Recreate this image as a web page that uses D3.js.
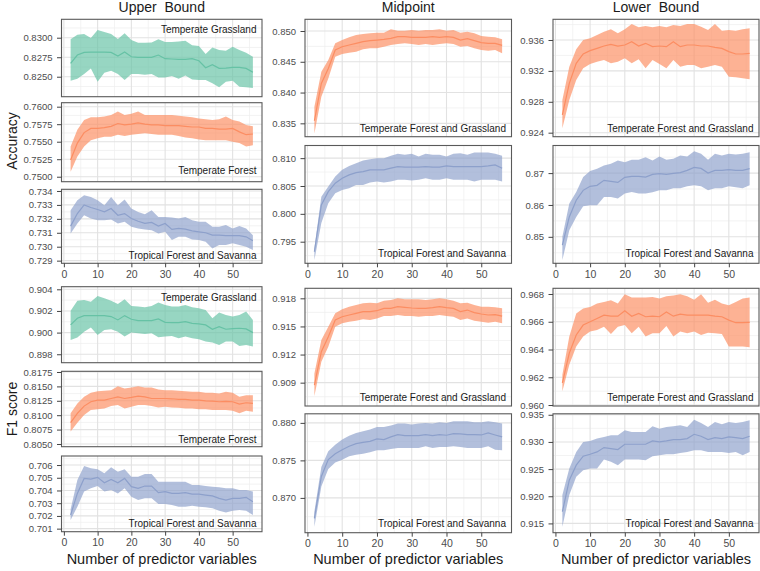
<!DOCTYPE html>
<html><head><meta charset="utf-8">
<script src="https://cdn.jsdelivr.net/npm/d3@7"></script>
<style>body{margin:0;background:#fff}svg{display:block}text{font-family:"Liberation Sans",Arial,sans-serif}</style>
</head><body>
<svg id="c" width="760" height="571"></svg>
<script>
// ---------- DATA ----------
const xVals = [2,4,6,8,10,12,14,16,18,20,22,24,26,28,30,32,34,36,38,40,42,44,46,48,50,52,54,56];
const xTicks = [0,10,20,30,40,50];
const colTitles = ["Upper  Bound","Midpoint","Lower  Bound"];
const rowTitles = ["Accuracy","F1 score"];
const xTitle = "Number of predictor variables";
const categories = ["Temperate Grassland","Temperate Forest","Tropical Forest and Savanna","Temperate Forest and Grassland"];

// Upper bound - Accuracy - Temperate Grassland
const ubAccTG_mean=[0.82671,0.82778,0.82812,0.82816,0.82816,0.82816,0.82812,0.82765,0.82816,0.82756,0.82748,0.82748,0.82748,0.82778,0.82731,0.82727,0.82722,0.82722,0.82731,0.82705,0.82615,0.82654,0.82607,0.82611,0.8262,0.8262,0.82607,0.82556];
const ubAccTG_hi=[0.82979,0.83038,0.83047,0.82996,0.83098,0.83073,0.83047,0.82983,0.83056,0.8297,0.82936,0.82936,0.8294,0.82979,0.82944,0.82944,0.82953,0.82962,0.82902,0.82893,0.82791,0.82876,0.82842,0.82833,0.82885,0.82842,0.82808,0.82756];
const ubAccTG_lo=[0.82449,0.82474,0.82534,0.82607,0.82436,0.82551,0.82577,0.82534,0.82457,0.82534,0.82534,0.82526,0.82534,0.82491,0.82491,0.82508,0.82474,0.82517,0.82466,0.82457,0.82457,0.82415,0.82364,0.82436,0.82449,0.82372,0.82364,0.82355];
const ubAccTG_domain=[0.82244,0.83236];
const ubAccTG_ticks=[0.825,0.8275,0.83];
// Upper bound - Accuracy - Temperate Forest
const ubAccTF_mean=[0.7524,0.7548,0.7563,0.7569,0.7569,0.757,0.7572,0.7576,0.7574,0.7575,0.7577,0.7575,0.7574,0.7574,0.7573,0.7573,0.7573,0.7572,0.7571,0.7571,0.7569,0.7569,0.7568,0.7568,0.7569,0.7564,0.756,0.7561];
const ubAccTF_hi=[0.7543,0.7567,0.7581,0.7585,0.7585,0.7586,0.7588,0.7593,0.7588,0.759,0.7593,0.7588,0.7588,0.7588,0.7588,0.7588,0.7587,0.7586,0.7585,0.7583,0.7582,0.7581,0.7582,0.7586,0.7581,0.7579,0.7574,0.7572];
const ubAccTF_lo=[0.7507,0.7529,0.7543,0.7552,0.7555,0.7557,0.7557,0.756,0.7558,0.756,0.7561,0.7562,0.7561,0.756,0.756,0.756,0.7558,0.7556,0.7555,0.7553,0.7552,0.7552,0.7552,0.7552,0.755,0.7548,0.7543,0.7545];
const ubAccTF_domain=[0.74929,0.76057];
const ubAccTF_ticks=[0.75,0.7525,0.755,0.7575,0.76];
// Upper bound - Accuracy - Tropical Forest and Savanna
const ubAccTFS_mean=[0.73148,0.73238,0.733,0.73281,0.73267,0.7325,0.73274,0.73226,0.73238,0.73202,0.73183,0.73167,0.73174,0.73148,0.73167,0.73124,0.73131,0.73126,0.73114,0.73107,0.731,0.73083,0.73083,0.73079,0.73079,0.73079,0.73071,0.73043];
const ubAccTFS_hi=[0.73262,0.73333,0.73369,0.73357,0.73333,0.73298,0.73357,0.73298,0.73338,0.73274,0.7325,0.73233,0.73262,0.73214,0.73214,0.7321,0.73202,0.73214,0.7319,0.73179,0.73179,0.73143,0.73143,0.73155,0.73131,0.73148,0.73131,0.73083];
const ubAccTFS_lo=[0.73095,0.73167,0.73226,0.73202,0.7319,0.7319,0.73195,0.73167,0.73179,0.73143,0.73131,0.73124,0.73119,0.73095,0.73107,0.73048,0.73071,0.73071,0.73052,0.73048,0.73036,0.72988,0.73012,0.73012,0.73024,0.73012,0.73,0.72976];
const ubAccTFS_domain=[0.72881,0.73412];
const ubAccTFS_ticks=[0.729,0.730,0.731,0.732,0.733,0.734];
// Upper bound - F1 - Temperate Grassland
const ubF1TG_mean=[0.90071,0.90132,0.90157,0.90157,0.90157,0.90157,0.90148,0.90117,0.90157,0.90123,0.90111,0.90111,0.90111,0.90126,0.90095,0.90092,0.90092,0.90102,0.90086,0.9008,0.90071,0.90031,0.90055,0.90031,0.90037,0.9004,0.90034,0.9];
const ubF1TG_hi=[0.90203,0.90295,0.90302,0.90286,0.90338,0.90317,0.90295,0.90265,0.90308,0.90246,0.9024,0.90234,0.90246,0.90277,0.90255,0.9024,0.9024,0.90255,0.90234,0.90225,0.90209,0.90132,0.90185,0.90163,0.90148,0.90163,0.90194,0.90117];
const ubF1TG_lo=[0.89932,0.89954,0.90009,0.90046,0.89978,0.90025,0.90031,0.90009,0.89963,0.9,0.89994,0.89988,0.89994,0.89957,0.89963,0.89969,0.89948,0.89963,0.89948,0.89938,0.89917,0.89908,0.89886,0.89917,0.89917,0.89877,0.89886,0.89871];
const ubF1TG_domain=[0.89722,0.90424];
const ubF1TG_ticks=[0.898,0.900,0.902,0.904];
// Upper bound - F1 - Temperate Forest
const ubF1TF_mean=[0.8087,0.81032,0.81158,0.81233,0.81262,0.81262,0.8129,0.81319,0.8129,0.81308,0.8133,0.81319,0.8129,0.8129,0.8129,0.81285,0.81273,0.81273,0.81262,0.81262,0.8125,0.81244,0.81233,0.81239,0.81233,0.81193,0.81216,0.81204];
const ubF1TF_hi=[0.81032,0.81204,0.81319,0.81388,0.81417,0.81423,0.81434,0.81503,0.81463,0.8148,0.81503,0.8148,0.8148,0.81446,0.81434,0.81434,0.81423,0.81417,0.81405,0.81405,0.81388,0.81388,0.81377,0.81405,0.81388,0.81319,0.81348,0.81348];
const ubF1TF_lo=[0.80715,0.8087,0.81003,0.81089,0.81101,0.81118,0.81158,0.81175,0.81118,0.81147,0.81175,0.81175,0.81158,0.81135,0.81147,0.81135,0.81129,0.81118,0.81118,0.81101,0.81101,0.81089,0.81089,0.81089,0.81078,0.81032,0.81078,0.8106];
const ubF1TF_domain=[0.80453,0.81762];
const ubF1TF_ticks=[0.805,0.8075,0.81,0.8125,0.815,0.8175];
// Upper bound - F1 - Tropical Forest and Savanna
const ubF1TFS_mean=[0.70207,0.70377,0.70495,0.7049,0.70503,0.70461,0.70487,0.70461,0.70495,0.7043,0.70417,0.70435,0.70435,0.70383,0.70391,0.70377,0.70377,0.70383,0.70372,0.70372,0.70364,0.70357,0.70338,0.70325,0.70338,0.70338,0.70346,0.70312];
const ubF1TFS_hi=[0.70252,0.70482,0.70592,0.70574,0.70566,0.70535,0.70582,0.70548,0.70566,0.70508,0.70508,0.70529,0.70529,0.70469,0.70469,0.70469,0.70469,0.70469,0.70443,0.70443,0.70435,0.7043,0.70425,0.70417,0.70417,0.70404,0.70404,0.70391];
const ubF1TFS_lo=[0.70168,0.70273,0.70391,0.70417,0.70435,0.70391,0.70404,0.70377,0.70417,0.70351,0.70325,0.70338,0.70338,0.70294,0.70294,0.70286,0.70273,0.70273,0.7028,0.70273,0.70268,0.7026,0.70241,0.70226,0.70241,0.70247,0.70241,0.70207];
const ubF1TFS_domain=[0.70076,0.70671];
const ubF1TFS_ticks=[0.701,0.702,0.703,0.704,0.705,0.706];
// Midpoint - Accuracy - Temperate Forest and Grassland
const midAccTFG_mean=[0.83542,0.84149,0.8439,0.84691,0.84745,0.84772,0.84799,0.84827,0.84843,0.84853,0.84864,0.84881,0.84908,0.84908,0.84897,0.84897,0.84897,0.84908,0.84897,0.84908,0.84897,0.84853,0.84875,0.84843,0.8481,0.84799,0.84799,0.84767];
const midAccTFG_hi=[0.8377,0.84339,0.84528,0.84799,0.84853,0.84897,0.84935,0.84951,0.84962,0.84973,0.84973,0.85027,0.85005,0.85005,0.85016,0.85005,0.85016,0.85016,0.85027,0.85005,0.85016,0.84973,0.84989,0.84962,0.84919,0.84908,0.84897,0.84864];
const midAccTFG_lo=[0.83336,0.83932,0.8423,0.84583,0.84626,0.84648,0.84664,0.84702,0.84718,0.84718,0.84745,0.84772,0.84789,0.84799,0.84789,0.84772,0.84789,0.84772,0.84789,0.84799,0.84789,0.84745,0.84756,0.84718,0.84691,0.8468,0.84691,0.84637];
const midAccTFG_domain=[0.83283,0.8519];
const midAccTFG_ticks=[0.835,0.840,0.845,0.850];
// Midpoint - Accuracy - Tropical Forest and Savanna
const midAccTFS_mean=[0.7932,0.8016,0.80399,0.8055,0.8064,0.807,0.80741,0.80759,0.8079,0.8079,0.8079,0.8082,0.80849,0.80838,0.80838,0.80838,0.80849,0.80838,0.80838,0.80861,0.80849,0.80849,0.80849,0.80849,0.80849,0.80861,0.80879,0.8082];
const midAccTFS_hi=[0.79381,0.80309,0.80489,0.80669,0.8079,0.80861,0.8091,0.80957,0.80982,0.81,0.81,0.81041,0.81077,0.81059,0.81077,0.81029,0.81077,0.81059,0.81059,0.81029,0.81077,0.8109,0.81059,0.81101,0.81101,0.81101,0.81077,0.81041];
const midAccTFS_lo=[0.7917,0.79836,0.8019,0.8037,0.8043,0.8046,0.8052,0.8052,0.80561,0.80579,0.80561,0.80579,0.8061,0.8061,0.80597,0.8061,0.8064,0.8061,0.8061,0.8064,0.8061,0.8061,0.8061,0.80579,0.8061,0.8061,0.8061,0.80579];
const midAccTFS_domain=[0.79112,0.81227];
const midAccTFS_ticks=[0.795,0.800,0.805,0.810];
// Midpoint - F1 - Temperate Forest and Grassland
const midF1TFG_mean=[0.90874,0.9123,0.9139,0.91569,0.91604,0.91622,0.9164,0.91658,0.91658,0.91668,0.91693,0.91693,0.91711,0.91704,0.91697,0.91693,0.91693,0.917,0.91711,0.917,0.91693,0.91658,0.91675,0.91647,0.91633,0.91622,0.91626,0.91611];
const midF1TFG_hi=[0.90999,0.91355,0.91497,0.9164,0.91683,0.91711,0.91729,0.91747,0.91754,0.91747,0.91775,0.91782,0.918,0.91789,0.91789,0.91789,0.91782,0.91789,0.918,0.91789,0.91775,0.91747,0.91754,0.91729,0.91711,0.91711,0.91704,0.91693];
const midF1TFG_lo=[0.90757,0.91124,0.91284,0.91497,0.91533,0.91551,0.91561,0.91576,0.91569,0.91586,0.91611,0.91611,0.91622,0.91611,0.91611,0.91604,0.91611,0.91611,0.91622,0.91611,0.91604,0.91569,0.91586,0.91561,0.91551,0.9154,0.91551,0.91533];
const midF1TFG_domain=[0.90651,0.91907];
const midF1TFG_ticks=[0.909,0.912,0.915,0.918];
// Midpoint - F1 - Tropical Forest and Savanna
const midF1TFS_mean=[0.86728,0.87286,0.8751,0.87589,0.87643,0.87688,0.87723,0.87741,0.87754,0.87786,0.87777,0.87813,0.87844,0.8783,0.8783,0.8783,0.87844,0.8783,0.87844,0.87835,0.87857,0.87853,0.87844,0.87844,0.87839,0.87866,0.87839,0.87813];
const midF1TFS_hi=[0.86817,0.87411,0.87621,0.8771,0.87777,0.8783,0.87866,0.87888,0.87911,0.87946,0.87946,0.87964,0.87991,0.87991,0.87978,0.87991,0.88,0.87991,0.88009,0.88,0.88022,0.88022,0.88022,0.88009,0.88009,0.88022,0.88009,0.87991];
const midF1TFS_lo=[0.86616,0.87152,0.87384,0.87473,0.8751,0.87554,0.87576,0.87589,0.87607,0.87634,0.87634,0.87652,0.87665,0.87665,0.87665,0.87665,0.87688,0.87665,0.87679,0.87679,0.87688,0.87679,0.87665,0.87665,0.87665,0.87688,0.87643,0.87634];
const midF1TFS_domain=[0.86536,0.88121];
const midF1TFS_ticks=[0.870,0.875,0.880];
// Lower bound - Accuracy - Temperate Forest and Grassland
const lbAccTFG_mean=[0.92629,0.93039,0.93298,0.93419,0.93462,0.93492,0.93522,0.93544,0.93522,0.93535,0.93578,0.93522,0.93557,0.93514,0.93522,0.93514,0.93578,0.93514,0.93535,0.93535,0.93522,0.93522,0.93505,0.93492,0.93449,0.93419,0.93419,0.93427];
const lbAccTFG_hi=[0.92823,0.93255,0.93479,0.936,0.93622,0.93665,0.93708,0.93738,0.93686,0.93738,0.93807,0.93764,0.93781,0.93764,0.93781,0.93764,0.93794,0.93781,0.93807,0.93807,0.93773,0.93729,0.93807,0.93721,0.93729,0.93721,0.93738,0.93751];
const lbAccTFG_lo=[0.92457,0.92823,0.93082,0.93233,0.93289,0.9332,0.93341,0.93298,0.9332,0.93363,0.93298,0.9335,0.93233,0.93341,0.93289,0.93233,0.93341,0.93255,0.93276,0.93276,0.93233,0.93255,0.93276,0.93255,0.93125,0.93117,0.93104,0.93091];
const lbAccTFG_domain=[0.92348,0.93868];
const lbAccTFG_ticks=[0.924,0.928,0.932,0.936];
// Lower bound - Accuracy - Tropical Forest and Savanna
const lbAccTFS_mean=[0.84741,0.85625,0.86147,0.86459,0.86584,0.86616,0.86772,0.86741,0.86709,0.86866,0.86897,0.86897,0.86875,0.86959,0.86981,0.86959,0.86991,0.87013,0.87084,0.87178,0.87147,0.87,0.87084,0.87084,0.87106,0.87084,0.87084,0.87138];
const lbAccTFS_hi=[0.85,0.86044,0.86406,0.86875,0.87063,0.87138,0.87241,0.87294,0.87397,0.87344,0.87419,0.87419,0.875,0.87397,0.87522,0.87419,0.8745,0.87553,0.87522,0.87688,0.87606,0.87419,0.87606,0.87553,0.87606,0.87584,0.87606,0.87656];
const lbAccTFS_lo=[0.84272,0.85209,0.85625,0.85959,0.85991,0.85991,0.8625,0.8625,0.862,0.86356,0.86406,0.86356,0.86356,0.86397,0.86459,0.86459,0.86522,0.86522,0.86584,0.86616,0.86584,0.86459,0.86522,0.86522,0.86584,0.86553,0.86522,0.86616];
const lbAccTFS_domain=[0.84169,0.87866];
const lbAccTFS_ticks=[0.85,0.86,0.87];
// Lower bound - F1 - Temperate Forest and Grassland
const lbF1TFG_mean=[0.9616,0.96374,0.96505,0.96576,0.966,0.96624,0.96648,0.9664,0.9664,0.96679,0.9664,0.9666,0.96636,0.9664,0.96636,0.96671,0.9664,0.96655,0.96648,0.96648,0.96648,0.96648,0.9664,0.96636,0.96612,0.96593,0.96593,0.96595];
const lbF1TFG_hi=[0.96219,0.96493,0.9666,0.96695,0.96707,0.96731,0.96743,0.96755,0.96731,0.96798,0.96774,0.96774,0.96774,0.96779,0.96767,0.96783,0.9679,0.96798,0.96783,0.96759,0.96798,0.96736,0.96759,0.96731,0.96719,0.96743,0.96767,0.96774];
const lbF1TFG_lo=[0.961,0.96291,0.96421,0.96493,0.96529,0.9654,0.96564,0.96512,0.96564,0.96576,0.96517,0.96564,0.96493,0.96517,0.96517,0.96569,0.96493,0.96529,0.96517,0.96529,0.96505,0.96521,0.96517,0.96512,0.96421,0.96421,0.96421,0.96417];
const lbF1TFG_domain=[0.95993,0.96841];
const lbF1TFG_ticks=[0.960,0.962,0.964,0.966,0.968];
// Lower bound - F1 - Tropical Forest and Savanna
const lbF1TFS_mean=[0.91715,0.92296,0.92572,0.92737,0.92774,0.92816,0.92896,0.92878,0.92859,0.92957,0.92957,0.92957,0.92957,0.93018,0.93,0.93018,0.93043,0.93043,0.93061,0.93141,0.93104,0.93043,0.9308,0.93061,0.93092,0.9308,0.93061,0.93104];
const lbF1TFS_hi=[0.92021,0.9251,0.92816,0.93,0.93018,0.93061,0.93092,0.93122,0.93122,0.93214,0.93184,0.93184,0.93184,0.93288,0.93245,0.93275,0.93288,0.93306,0.93275,0.9341,0.93349,0.93275,0.93367,0.93324,0.93367,0.93349,0.93367,0.93398];
const lbF1TFS_lo=[0.91439,0.92021,0.92357,0.9248,0.9251,0.9251,0.92676,0.92633,0.92572,0.92676,0.92676,0.92676,0.92663,0.92737,0.92755,0.92774,0.92774,0.92798,0.92816,0.92847,0.92847,0.92816,0.92816,0.92816,0.92798,0.92816,0.92755,0.92816];
const lbF1TFS_domain=[0.91329,0.93518];
const lbF1TFS_ticks=[0.915,0.920,0.925,0.930,0.935];

// ---------- STYLE / LAYOUT ----------
const colors = {"Temperate Grassland":"#66c2a5","Temperate Forest":"#fc8d62","Temperate Forest and Grassland":"#fc8d62","Tropical Forest and Savanna":"#8da0cb"};
const cols = [{x0:61.5,x1:262},{x0:305,x1:511.5},{x0:553,x1:759}];
const FONT = '"Liberation Sans", Arial, sans-serif';

const panels = [
 {c:0,y0:19.3,y1:96.7,m:ubAccTG_mean,hi:ubAccTG_hi,lo:ubAccTG_lo,dom:ubAccTG_domain,ticks:ubAccTG_ticks,fmt:".4f",cat:categories[0],lab:"top",ld:13.7},
 {c:0,y0:102.7,y1:181.7,m:ubAccTF_mean,hi:ubAccTF_hi,lo:ubAccTF_lo,dom:ubAccTF_domain,ticks:ubAccTF_ticks,fmt:".4f",cat:categories[1],lab:"bottom",ld:-7.7},
 {c:0,y0:189.3,y1:263.3,m:ubAccTFS_mean,hi:ubAccTFS_hi,lo:ubAccTFS_lo,dom:ubAccTFS_domain,ticks:ubAccTFS_ticks,fmt:".3f",cat:categories[2],lab:"bottom",ld:-4,xa:true},
 {c:0,y0:286.7,y1:362.7,m:ubF1TG_mean,hi:ubF1TG_hi,lo:ubF1TG_lo,dom:ubF1TG_domain,ticks:ubF1TG_ticks,fmt:".3f",cat:categories[0],lab:"top",ld:14},
 {c:0,y0:371.3,y1:446.7,m:ubF1TF_mean,hi:ubF1TF_hi,lo:ubF1TF_lo,dom:ubF1TF_domain,ticks:ubF1TF_ticks,fmt:".4f",cat:categories[1],lab:"bottom",ld:-4},
 {c:0,y0:456,y1:531.7,m:ubF1TFS_mean,hi:ubF1TFS_hi,lo:ubF1TFS_lo,dom:ubF1TFS_domain,ticks:ubF1TFS_ticks,fmt:".3f",cat:categories[2],lab:"bottom",ld:-4.4,xa:true},
 {c:1,y0:19.3,y1:136.7,m:midAccTFG_mean,hi:midAccTFG_hi,lo:midAccTFG_lo,dom:midAccTFG_domain,ticks:midAccTFG_ticks,fmt:".3f",cat:categories[3],lab:"bottom",ld:-5},
 {c:1,y0:145.5,y1:263.3,m:midAccTFS_mean,hi:midAccTFS_hi,lo:midAccTFS_lo,dom:midAccTFS_domain,ticks:midAccTFS_ticks,fmt:".3f",cat:categories[2],lab:"bottom",ld:-6.5,xa:true},
 {c:1,y0:288.3,y1:406,m:midF1TFG_mean,hi:midF1TFG_hi,lo:midF1TFG_lo,dom:midF1TFG_domain,ticks:midF1TFG_ticks,fmt:".3f",cat:categories[3],lab:"bottom",ld:-5.3},
 {c:1,y0:413.8,y1:532.7,m:midF1TFS_mean,hi:midF1TFS_hi,lo:midF1TFS_lo,dom:midF1TFS_domain,ticks:midF1TFS_ticks,fmt:".3f",cat:categories[2],lab:"bottom",ld:-5.4,xa:true},
 {c:2,y0:19.3,y1:136.7,m:lbAccTFG_mean,hi:lbAccTFG_hi,lo:lbAccTFG_lo,dom:lbAccTFG_domain,ticks:lbAccTFG_ticks,fmt:".3f",cat:categories[3],lab:"bottom",ld:-5},
 {c:2,y0:145.5,y1:263.3,m:lbAccTFS_mean,hi:lbAccTFS_hi,lo:lbAccTFS_lo,dom:lbAccTFS_domain,ticks:lbAccTFS_ticks,fmt:".2f",cat:categories[2],lab:"bottom",ld:-6.5,xa:true},
 {c:2,y0:288.3,y1:406,m:lbF1TFG_mean,hi:lbF1TFG_hi,lo:lbF1TFG_lo,dom:lbF1TFG_domain,ticks:lbF1TFG_ticks,fmt:".3f",cat:categories[3],lab:"bottom",ld:-5.3},
 {c:2,y0:413.8,y1:532.7,m:lbF1TFS_mean,hi:lbF1TFS_hi,lo:lbF1TFS_lo,dom:lbF1TFS_domain,ticks:lbF1TFS_ticks,fmt:".3f",cat:categories[2],lab:"bottom",ld:-5.4,xa:true}
];

const svg = d3.select("#c");

panels.forEach(p => {
  const col = cols[p.c];
  const x = d3.scaleLinear().domain([-0.7, 58.7]).range([col.x0, col.x1]);
  const y = d3.scaleLinear().domain(p.dom).range([p.y1, p.y0]);
  const g = svg.append("g");
  // minor grid
  const yStep = p.ticks[1]-p.ticks[0];
  const yMinor = [];
  for (let i = -1; i < p.ticks.length; i++) { const v = (i<0? p.ticks[0]-yStep/2 : p.ticks[i]+yStep/2); if (v>p.dom[0] && v<p.dom[1]) yMinor.push(v); }
  const xMinor = [5,15,25,35,45,55];
  g.selectAll(".ymin").data(yMinor).enter().append("line")
    .attr("x1",col.x0).attr("x2",col.x1).attr("y1",d=>y(d)).attr("y2",d=>y(d))
    .attr("stroke","#eeeeee").attr("stroke-width",0.7);
  g.selectAll(".xmin").data(xMinor).enter().append("line")
    .attr("x1",d=>x(d)).attr("x2",d=>x(d)).attr("y1",p.y0).attr("y2",p.y1)
    .attr("stroke","#eeeeee").attr("stroke-width",0.7);
  g.selectAll(".ymaj").data(p.ticks.filter(v=>v>=p.dom[0]&&v<=p.dom[1])).enter().append("line")
    .attr("x1",col.x0).attr("x2",col.x1).attr("y1",d=>y(d)).attr("y2",d=>y(d))
    .attr("stroke","#e2e2e2").attr("stroke-width",1.1);
  g.selectAll(".xmaj").data(xTicks).enter().append("line")
    .attr("x1",d=>x(d)).attr("x2",d=>x(d)).attr("y1",p.y0).attr("y2",p.y1)
    .attr("stroke","#e2e2e2").attr("stroke-width",1.1);
  const color = colors[p.cat];
  const rows = xVals.map((xv,i)=>({x:xv,m:p.m[i],lo:p.lo[i],hi:p.hi[i]}));
  g.append("path").datum(rows)
    .attr("d", d3.area().x(d=>x(d.x)).y0(d=>y(d.lo)).y1(d=>y(d.hi)))
    .attr("fill", color).attr("fill-opacity",0.68);
  g.append("path").datum(rows)
    .attr("d", d3.line().x(d=>x(d.x)).y(d=>y(d.m)))
    .attr("fill","none").attr("stroke",color).attr("stroke-width",1.2);
  // border
  g.append("rect").attr("x",col.x0).attr("y",p.y0).attr("width",col.x1-col.x0).attr("height",p.y1-p.y0)
    .attr("fill","none").attr("stroke","#5a5a5a").attr("stroke-width",1.1);
  // y axis
  const ya = g.append("g").attr("transform",`translate(${col.x0},0)`)
    .call(d3.axisLeft(y).tickValues(p.ticks.filter(v=>v>=p.dom[0]-1e-9&&v<=p.dom[1]+1e-9)).tickFormat(d3.format(p.fmt)).tickSize(4.5).tickPadding(4.5));
  ya.select(".domain").remove();
  ya.selectAll("line").attr("stroke","#444");
  ya.selectAll("text").attr("fill","#4d4d4d").style("font-size","9.5px").style("font-family",FONT);
  if (p.xa) {
    const xa = g.append("g").attr("transform",`translate(0,${p.y1})`)
      .call(d3.axisBottom(x).tickValues(xTicks).tickFormat(d3.format("d")).tickSize(4).tickPadding(3));
    xa.select(".domain").remove();
    xa.selectAll("line").attr("stroke","#444");
    xa.selectAll("text").attr("fill","#4d4d4d").style("font-size","10.5px").style("font-family",FONT);
  }
  // category label
  const ly = p.lab==="top" ? p.y0 + p.ld : p.y1 + p.ld;
  g.append("text").attr("x", col.x1 - 5.5).attr("y", ly).attr("text-anchor","end")
    .style("font-size","10px").style("font-family",FONT).attr("fill","#1a1a1a").text(p.cat);
});

// column titles
cols.forEach((c,i)=>{
  svg.append("text").attr("x",(c.x0+c.x1)/2).attr("y",12).attr("text-anchor","middle")
    .style("font-size","14px").style("font-family",FONT).style("white-space","pre").attr("fill","#1a1a1a").text(colTitles[i]);
  svg.append("text").attr("x",(c.x0+c.x1)/2).attr("y",564).attr("text-anchor","middle")
    .style("font-size","14.5px").style("font-family",FONT).attr("fill","#1a1a1a").text(xTitle);
});
// row titles
[[141,rowTitles[0]],[409,rowTitles[1]]].forEach(([cy,t])=>{
  svg.append("text").attr("transform",`translate(17,${cy}) rotate(-90)`).attr("text-anchor","middle")
    .style("font-size","14px").style("font-family",FONT).attr("fill","#1a1a1a").text(t);
});
</script>
</body></html>
